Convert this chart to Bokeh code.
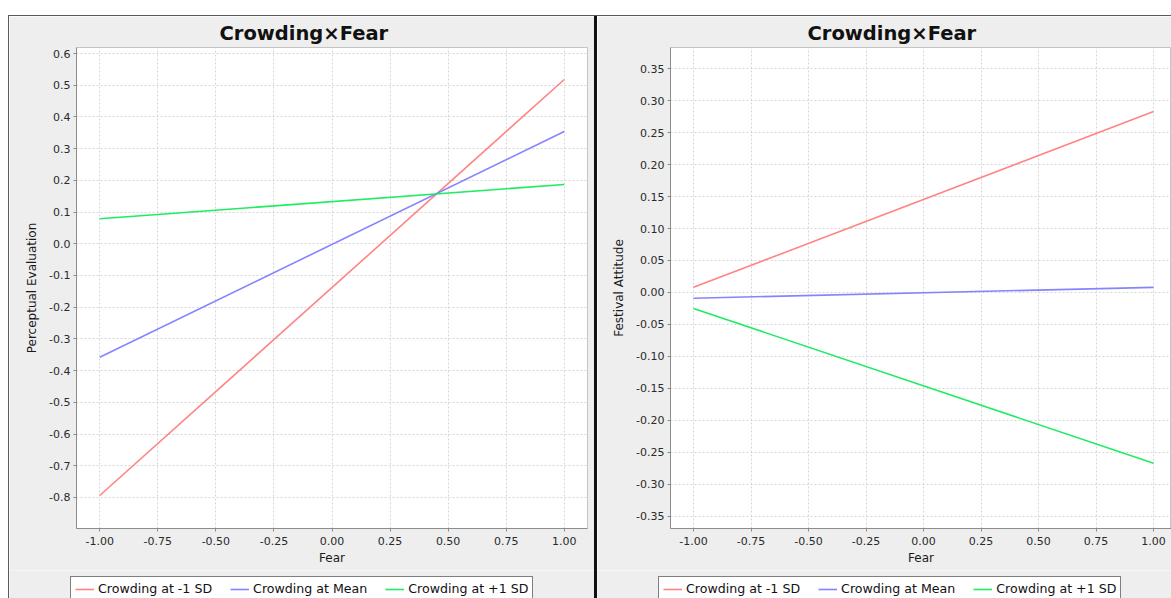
from bokeh.plotting import figure
from bokeh.layouts import row, column
from bokeh.models import (FixedTicker, Legend, LegendItem, Range1d, Spacer,
                          NumeralTickFormatter)
from bokeh.embed import file_html
from bokeh.resources import INLINE

# ---- data ----
fear = [-1.0, 1.0]
series_names = ["Crowding at -1 SD", "Crowding at Mean", "Crowding at +1 SD"]
series_colors = ["#ff8484", "#8484ff", "#1fec62"]

pe_low = [-0.794, 0.518]
pe_mean = [-0.358, 0.354]
pe_high = [0.079, 0.187]

fa_low = [0.008, 0.283]
fa_mean = [-0.009, 0.008]
fa_high = [-0.025, -0.267]

x_ticks = [-1.0, -0.75, -0.5, -0.25, 0.0, 0.25, 0.5, 0.75, 1.0]
pe_ticks = [-0.8, -0.7, -0.6, -0.5, -0.4, -0.3, -0.2, -0.1, 0.0,
            0.1, 0.2, 0.3, 0.4, 0.5, 0.6]
fa_ticks = [-0.35, -0.3, -0.25, -0.2, -0.15, -0.1, -0.05, 0.0,
            0.05, 0.1, 0.15, 0.2, 0.25, 0.3, 0.35]

title_text = "Crowding\u00d7Fear"
FONT = "DejaVu Sans"
BG = "#eeeeee"
MAIN_H = 554
LEG_H = 28


def make_main(width, xr, yr, yticks, yfmt, ylabel, series, mbl, mbr,
              title_offset):
    p = figure(width=width, height=MAIN_H, x_range=Range1d(*xr),
               y_range=Range1d(*yr), output_backend="svg",
               toolbar_location=None, min_border_left=mbl,
               min_border_right=mbr, min_border_top=31,
               min_border_bottom=42)
    p.border_fill_color = BG
    p.background_fill_color = "white"
    p.outline_line_color = "#c4c4c4"
    p.outline_line_width = 1

    p.title.text = title_text
    p.title.align = "left"
    p.title.text_font = FONT
    p.title.text_font_size = "19.5px"
    p.title.text_font_style = "bold"
    p.title.text_color = "#111111"
    p.title.offset = title_offset
    p.title.standoff = 6

    p.xaxis.ticker = FixedTicker(ticks=x_ticks)
    p.yaxis.ticker = FixedTicker(ticks=yticks)
    p.xaxis.formatter = NumeralTickFormatter(format="0.00")
    p.yaxis.formatter = NumeralTickFormatter(format=yfmt)
    p.xaxis.axis_label = "Fear"
    p.yaxis.axis_label = ylabel
    for ax in (p.xaxis[0], p.yaxis[0]):
        ax.axis_line_color = "#8c8c8c"
        ax.major_tick_line_color = "#8c8c8c"
        ax.major_tick_out = 3
        ax.major_tick_in = 0
        ax.minor_tick_line_color = None
        ax.major_label_text_font = FONT
        ax.major_label_text_font_size = "11px"
        ax.major_label_text_color = "#2a2a2a"
        ax.major_label_standoff = 3
        ax.axis_label_text_font = FONT
        ax.axis_label_text_font_size = "12px"
        ax.axis_label_text_font_style = "normal"
        ax.axis_label_text_color = "#1a1a1a"
    p.xaxis.major_label_standoff = 5
    p.xaxis.axis_label_standoff = 3
    p.yaxis.axis_label_standoff = 7

    p.grid.grid_line_color = "#d6d6d6"
    p.grid.grid_line_dash = "2 2"
    p.grid.grid_line_width = 1

    for color, ys in zip(series_colors, series):
        p.line(fear, ys, line_color=color, line_width=1.6)
    return p


def make_legend_strip(width, legend_x, series):
    # the legend's sample lines come from the same series, kept out of view
    q = figure(width=width, height=LEG_H, x_range=Range1d(10, 11),
               y_range=Range1d(10, 11), output_backend="svg",
               toolbar_location=None, x_axis_location=None,
               y_axis_location=None, min_border=0)
    q.border_fill_color = BG
    q.background_fill_color = BG
    q.outline_line_color = None
    q.grid.visible = False
    items = []
    for name, color, ys in zip(series_names, series_colors, series):
        r = q.line(fear, ys, line_color=color, line_width=1.6)
        items.append(LegendItem(label=name, renderers=[r]))
    legend = Legend(items=items, orientation="horizontal",
                    location=(legend_x, -3))
    legend.border_line_color = "black"
    legend.border_line_width = 1
    legend.background_fill_color = "white"
    legend.background_fill_alpha = 1.0
    legend.label_text_font = FONT
    legend.label_text_font_size = "12.6px"
    legend.label_text_color = "#111111"
    legend.glyph_width = 19
    legend.glyph_height = 14
    legend.label_height = 14
    legend.label_standoff = 4
    legend.spacing = 18
    legend.padding = 4
    legend.margin = 0
    q.add_layout(legend, "center")
    return q


left = make_main(585, (-1.1, 1.1), (-0.898, 0.619), pe_ticks, "0.0",
                 "Perceptual Evaluation", [pe_low, pe_mean, pe_high],
                 67, 7, 143)
right = make_main(574, (-1.1, 1.078), (-0.369, 0.383), fa_ticks, "0.00",
                  "Festival Attitude", [fa_low, fa_mean, fa_high],
                  73, 0, 137)
left_leg = make_legend_strip(585, 61, [pe_low, pe_mean, pe_high])
right_leg = make_legend_strip(574, 61, [fa_low, fa_mean, fa_high])

edge = "#5a5a5a"
FULL_H = MAIN_H + LEG_H
layout = column(
    Spacer(width=1171, height=15),
    Spacer(width=1163, height=1, margin=(0, 0, 0, 8),
           styles={"background-color": edge}),
    row(
        Spacer(width=8, height=FULL_H),
        Spacer(width=1, height=FULL_H, styles={"background-color": edge}),
        column(left, row(left_leg)),
        Spacer(width=3, height=FULL_H, styles={"background-color": "#111111"}),
        column(right, row(right_leg)),
    ),
)

open("out.html", "w").write(file_html(layout, INLINE))
